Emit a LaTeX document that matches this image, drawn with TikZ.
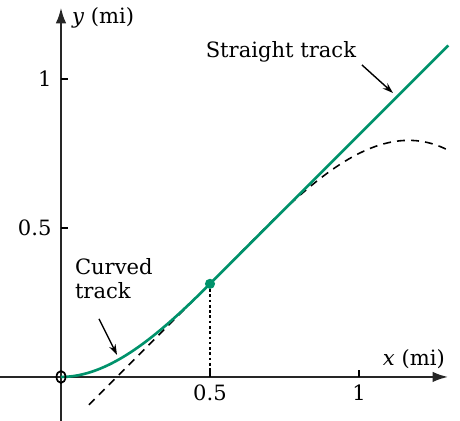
\documentclass[tikz,border=0pt]{standalone}
\usepackage{fontspec}
\setmainfont{DejaVu Serif}
\usetikzlibrary{arrows.meta}
\definecolor{track}{RGB}{0,146,107}
\tikzset{
  axis/.style={line width=1.4pt, draw=black!85, -{Latex[length=9pt,width=6pt]}},
  trackline/.style={line width=1.5pt, draw=track},
  guide/.style={line width=0.9pt, dash pattern=on 4.5pt off 3.5pt},
  lbl/.style={font=\fontsize{12}{14}\selectfont, inner sep=1pt},
  pointer/.style={line width=0.8pt, -{Stealth[length=6pt,width=4pt]}},
  tick/.style={line width=0.8pt}
}
\begin{document}
\begin{tikzpicture}[x=5.96cm,y=5.96cm]
\useasboundingbox (-0.2047,-0.1477) rectangle (1.339,1.265);
% axes
\coordinate (xs) at (-0.2047,0);
\coordinate (xe) at (1.30,0);
\coordinate (ys) at (0,-0.1477);
\coordinate (ye) at (0,1.24);
\draw[axis] (xs) -- (xe);
\draw[axis] (ys) -- (ye);
% ticks
\foreach \t in {0.5,1}{
  \draw[tick] (\t,0) -- (\t,0.025);
  \draw[tick] (0,\t) -- (0.025,\t);
}
\node[lbl, anchor=north] (x05) at (0.5,-0.02) {0.5};
\node[lbl, anchor=north] (x1) at (1,-0.02) {1};
\node[lbl, anchor=east] (y05) at (-0.025,0.5) {0.5};
\node[lbl, anchor=east] (y1) at (-0.025,1) {1};
\node[lbl, anchor=south east] (xl) at (1.295,0.022) {\textit{x} (mi)};
\node[lbl, anchor=west] (yl) at (0.03,1.205) {\textit{y} (mi)};
% dashed guides
\draw[guide] (0.094,-0.0935) -- (0.5,0.3125);
\draw[guide, domain=0.5:1.3, samples=60] plot (\x,{1.75*\x*\x-\x*\x*\x});
% dotted vertical
\coordinate (P) at (0.5,0.3125);
\coordinate (Pb) at (0.5,0);
\draw[line width=0.9pt, dash pattern=on 1.5pt off 1.5pt] (P) -- (Pb);
% tracks
\draw[trackline, domain=0:0.5, samples=50] plot (\x,{1.75*\x*\x-\x*\x*\x});
\draw[trackline] (P) -- (1.30,1.1125);
\fill[track] (P) circle (0.017);
% origin marker
\coordinate (O) at (0,0);
\draw[line width=1pt] (O) ellipse (0.015 and 0.02);
% labels
\node[lbl, anchor=center] (st) at (0.738,1.09) {Straight track};
\coordinate (stf) at (1.010,1.047);
\coordinate (sta) at (1.114,0.953);
\draw[pointer] (stf) -- (sta);
\node[lbl, anchor=north west, align=left] (ct) at (0.04,0.405) {Curved\\track};
\coordinate (ctf) at (0.1275,0.195);
\coordinate (cta) at (0.188,0.074);
\draw[pointer] (ctf) -- (cta);
\end{tikzpicture}
\end{document}
